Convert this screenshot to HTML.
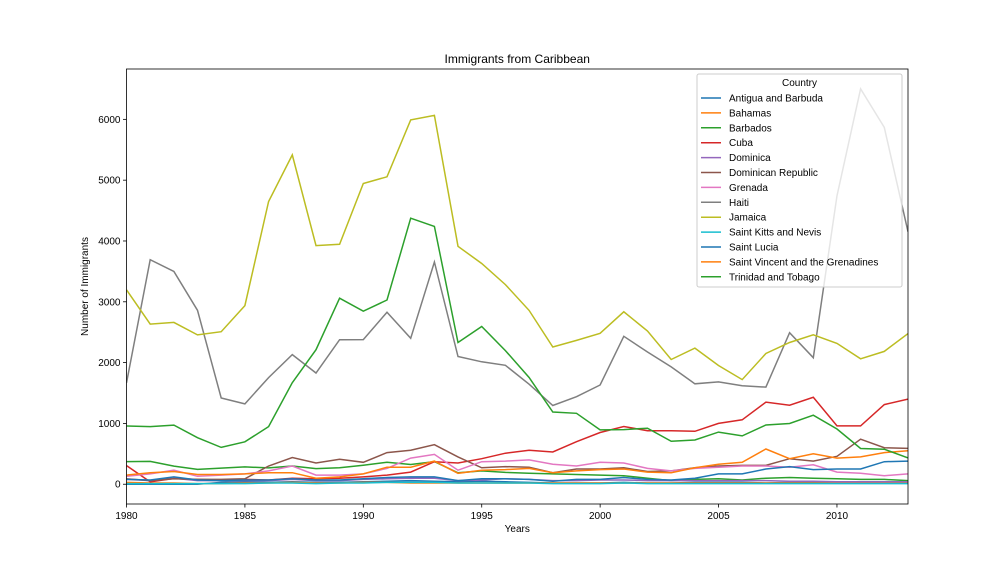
<!DOCTYPE html>
<html><head><meta charset="utf-8"><style>
body{margin:0;background:#fff;font-family:"Liberation Sans",sans-serif}
svg text{font-family:"Liberation Sans",sans-serif;fill:#000}
</style></head><body>
<svg id="chart" width="1008" height="576" viewBox="0 0 1008 576" xmlns="http://www.w3.org/2000/svg">
<rect width="1008" height="576" fill="#fff"/>
<g id="lines"></g>
<g id="axes"></g>
<g id="legend"></g>
</svg>
<script>
const years = [];
for (let y = 1980; y <= 2013; y++) years.push(y);
const countries = ["Antigua and Barbuda","Bahamas","Barbados","Cuba","Dominica","Dominican Republic","Grenada","Haiti","Jamaica","Saint Kitts and Nevis","Saint Lucia","Saint Vincent and the Grenadines","Trinidad and Tobago"];
const antigua = [0,1,1,0,30,40,30,40,30,30,40,50,60,50,40,50,40,30,20,20,20,30,20,20,30,30,30,20,30,30,20,20,30,40];
const bahamas = [30,20,20,10,10,20,20,30,20,20,30,30,20,20,20,20,20,20,20,20,20,20,20,20,20,20,20,20,20,20,20,20,30,30];
const barbados = [372,376,299,244,265,285,269,300,257,272,313,361,325,372,188,219,195,180,170,160,150,140,100,60,80,90,70,100,110,100,90,80,80,60];
const cuba = [306,38,95,80,70,80,70,99,90,100,120,150,200,370,350,420,510,560,530,700,850,950,880,880,870,1000,1060,1350,1300,1430,960,960,1310,1400];
const dominica = [80,60,100,60,60,60,60,80,60,60,80,90,100,100,60,70,90,80,60,60,70,70,60,60,60,60,60,60,50,50,40,40,40,40];
const dominican = [90,60,90,80,80,90,300,440,350,410,360,520,560,650,450,270,290,280,190,250,250,270,210,220,270,300,310,310,420,380,460,740,600,590];
const grenada = [130,170,230,130,150,170,220,300,150,150,170,260,430,490,230,370,380,400,330,300,360,350,260,220,260,280,300,300,280,320,200,180,140,170];
const haiti = [1666,3692,3498,2860,1418,1321,1753,2132,1829,2377,2379,2829,2399,3655,2100,2014,1955,1645,1295,1439,1631,2433,2175,1930,1652,1682,1619,1598,2491,2080,4744,6503,5868,4152];
const jamaica = [3198,2634,2661,2455,2508,2938,4649,5415,3924,3946,4945,5056,5991,6065,3913,3629,3283,2858,2256,2366,2482,2836,2519,2051,2239,1952,1721,2150,2330,2457,2316,2063,2184,2477];
const stkitts = [10,10,10,10,10,10,20,20,10,20,20,30,30,30,20,20,20,20,10,10,10,20,10,10,10,10,10,10,10,10,10,10,10,10];
const stlucia = [80,70,120,70,60,70,70,90,70,70,90,110,120,120,60,90,90,80,50,80,80,110,80,70,100,170,170,250,290,240,250,250,370,380];
const stvincent = [150,190,210,160,160,170,190,190,100,120,170,280,280,380,180,230,240,260,190,220,240,250,200,190,270,330,360,580,420,500,430,450,520,550];
const trinidad = [958,947,972,766,606,698,948,1670,2213,3059,2845,3030,4375,4239,2330,2594,2197,1755,1188,1167,894,898,921,706,727,857,794,974,998,1135,909,588,576,433];
const seriesList = [antigua,bahamas,barbados,cuba,dominica,dominican,grenada,haiti,jamaica,stkitts,stlucia,stvincent,trinidad];
const colors = ["#1f77b4","#ff7f0e","#2ca02c","#d62728","#9467bd","#8c564b","#e377c2","#7f7f7f","#bcbd22","#17becf","#1f77b4","#ff7f0e","#2ca02c"];
const yTicks = [0,1000,2000,3000,4000,5000,6000];
const xTicks = [1980,1985,1990,1995,2000,2005,2010];

const L=126.5,R=908,T=69,B=504, yMin=-325, yMax=6828;
const xS = y => L + (y-1980)/(2013-1980)*(R-L);
const yS = v => B - (v-yMin)/(yMax-yMin)*(B-T);
const NS="http://www.w3.org/2000/svg";
function mk(tag, attrs, parent){const e=document.createElementNS(NS,tag);for(const k in attrs)e.setAttribute(k,attrs[k]);parent.appendChild(e);return e;}
const gl=document.getElementById('lines'), ga=document.getElementById('axes'), gg=document.getElementById('legend');
const cp=mk('clipPath',{id:'cp'},document.getElementById('chart'));
mk('rect',{x:L,y:T,width:R-L,height:B-T},cp);
gl.setAttribute('clip-path','url(#cp)');
seriesList.forEach((s,i)=>{
  const p=mk('polyline',{points:s.map((v,j)=>xS(years[j]).toFixed(1)+','+yS(v).toFixed(1)).join(' '),fill:'none',stroke:colors[i],'stroke-width':1.5},gl);
  
  
});
const frame=mk('rect',{x:L,y:T,width:R-L,height:B-T,fill:'none',stroke:'#000','stroke-width':0.8},ga);


yTicks.forEach(v=>{
  mk('line',{x1:L-3.5,x2:L,y1:yS(v),y2:yS(v),stroke:'#000','stroke-width':0.8},ga);
  const t=mk('text',{x:L-6,y:yS(v)+3.5,'text-anchor':'end','font-size':10},ga);t.textContent=v;
  
  
});
xTicks.forEach(v=>{
  mk('line',{x1:xS(v),x2:xS(v),y1:B,y2:B+3.5,stroke:'#000','stroke-width':0.8},ga);
  const t=mk('text',{x:xS(v),y:B+15,'text-anchor':'middle','font-size':10},ga);t.textContent=v;
  
  
});
let t=mk('text',{x:(L+R)/2,y:63,'text-anchor':'middle','font-size':12},ga);t.textContent='Immigrants from Caribbean';


t=mk('text',{x:(L+R)/2,y:532,'text-anchor':'middle','font-size':10},ga);t.textContent='Years';


t=mk('text',{x:0,y:0,'text-anchor':'middle','font-size':10,transform:'translate(88,'+((T+B)/2)+') rotate(-90)'},ga);t.textContent='Number of Immigrants';


const lb=mk('rect',{x:697,y:74,width:205,height:213,fill:'#fff','fill-opacity':0.8,stroke:'#ccc',rx:2},gg);


t=mk('text',{x:799.5,y:86,'text-anchor':'middle','font-size':10},gg);t.textContent='Country';


countries.forEach((c,i)=>{
  const y=98+i*14.9;
  const g=mk('g',{},gg);
  
  
  mk('line',{x1:701,x2:721,y1:y,y2:y,stroke:colors[i],'stroke-width':1.5},g);
  const tt=mk('text',{x:729,y:y+3.5,'font-size':10},g);tt.textContent=c;
});
</script>
</body></html>
